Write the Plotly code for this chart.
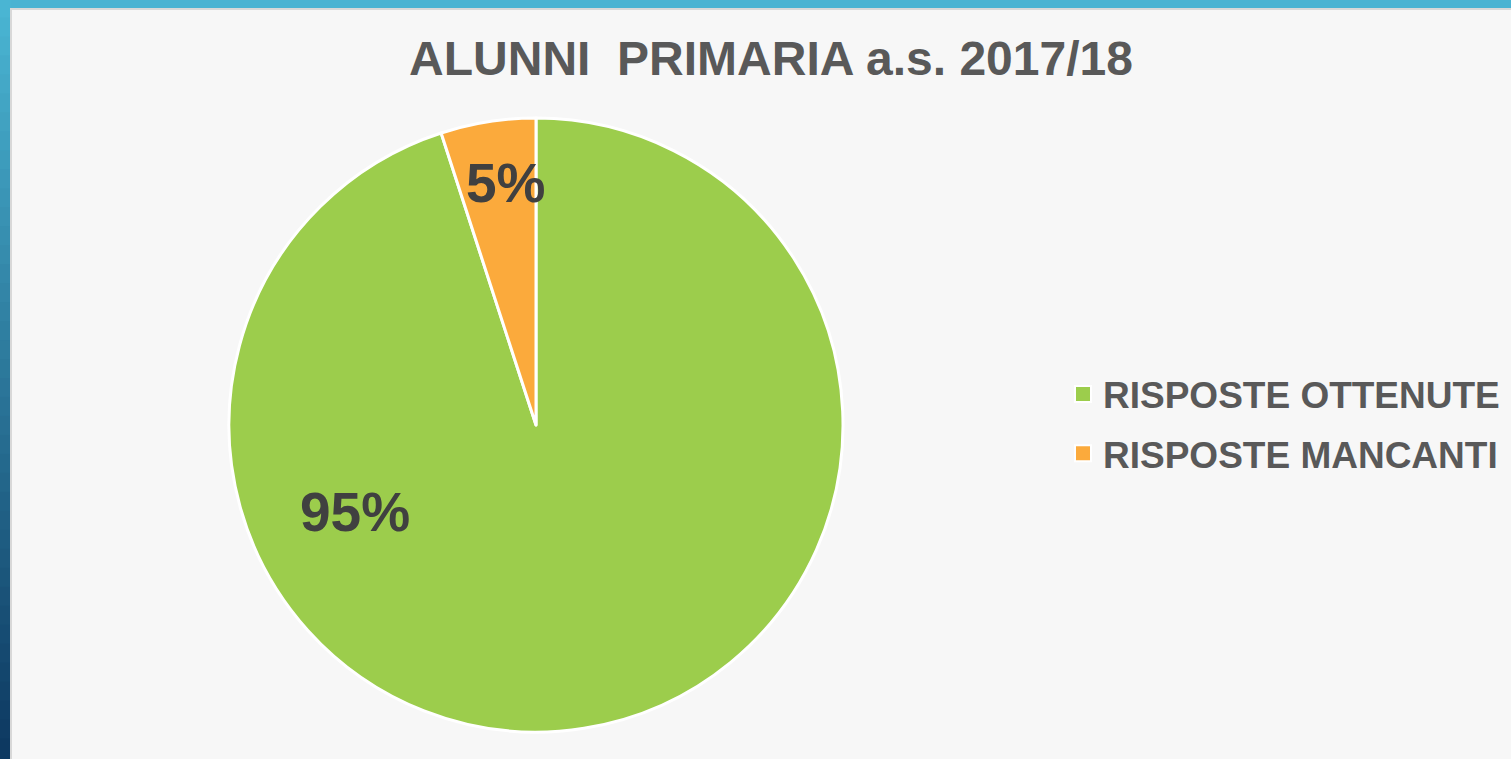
import plotly.graph_objects as go

W, H = 1511, 759

categories = ["RISPOSTE OTTENUTE", "RISPOSTE MANCANTI"]
values = [95, 5]
colors = ["#9ccd4c", "#fbaa3c"]
title_text = "ALUNNI\u00a0\u00a0PRIMARIA a.s. 2017/18"

# label anchor positions (paper fractions)
label_pos = [(355 / W, 1 - 512 / H), (506 / W, 1 - 183 / H)]

total = sum(values)
FONT = "Liberation Sans, Arial, sans-serif"

fig = go.Figure()
fig.add_trace(go.Pie(
    labels=categories,
    values=values,
    sort=False,
    direction="clockwise",
    rotation=0,
    marker=dict(colors=colors, line=dict(color="#ffffff", width=3)),
    textinfo="none",
    hoverinfo="label+percent",
    domain=dict(x=[229 / W, 843 / W], y=[27 / H, 641 / H]),
    showlegend=False,
))

# legend entries (bold labels, square swatches)
for cat, col in zip(categories, colors):
    fig.add_trace(go.Scatter(
        x=[None], y=[None], mode="markers", name=f"<b>{cat}</b>", legendgroup=cat,
        marker=dict(symbol="square", size=16, color=col, line=dict(color="#ffffff", width=2)),
        hoverinfo="skip", showlegend=True,
    ))

annotations = []
for v, (x, y) in zip(values, label_pos):
    annotations.append(dict(
        text=f"<b>{round(100 * v / total)}%</b>", x=x, y=y, xref="paper", yref="paper",
        showarrow=False, xanchor="center", yanchor="middle",
        font=dict(family=FONT, size=55, color="#404040"),
    ))

shapes = []
n = 40
top_c = (0x4a, 0xb5, 0xd3)
bot_c = (0x0d, 0x39, 0x61)
for i in range(n):
    t = i / (n - 1)
    c = tuple(int(round(top_c[k] + (bot_c[k] - top_c[k]) * t)) for k in range(3))
    y0 = 1 - (i + 1) / n
    y1 = 1 - i / n
    shapes.append(dict(type="rect", xref="paper", yref="paper", x0=0, x1=11 / W,
                       y0=y0, y1=y1 + 0.002, fillcolor="rgb(%d,%d,%d)" % c,
                       line=dict(width=0), layer="below"))
shapes.append(dict(type="rect", xref="paper", yref="paper", x0=10 / W, x1=1, y0=0, y1=1 - 8 / H,
                   fillcolor="#d8d8d8", line=dict(width=0), layer="below"))
shapes.append(dict(type="rect", xref="paper", yref="paper", x0=12 / W, x1=1, y0=0, y1=1 - 10 / H,
                   fillcolor="#f7f7f7", line=dict(width=0), layer="below"))

fig.update_layout(
    width=W, height=H,
    margin=dict(l=0, r=0, t=0, b=0),
    paper_bgcolor="#4ab3d2",
    plot_bgcolor="rgba(0,0,0,0)",
    xaxis=dict(visible=False),
    yaxis=dict(visible=False),
    title=dict(text="<b>" + title_text + "</b>", x=771 / W, xanchor="center", y=1 - 58 / H,
               yanchor="middle",
               font=dict(family=FONT, size=48, color="#595959")),
    legend=dict(x=1063 / W, xanchor="left", y=1 - 424 / H, yanchor="middle",
                font=dict(family=FONT, size=37, color="#595959"),
                bgcolor="rgba(0,0,0,0)", itemclick=False, itemdoubleclick=False,
                traceorder="grouped", tracegroupgap=8, itemsizing="trace"),
    annotations=annotations,
    shapes=shapes,
)

fig.write_html("out.html", config={"displayModeBar": False},
               post_script="document.body.style.margin='0';document.body.style.padding='0';")
